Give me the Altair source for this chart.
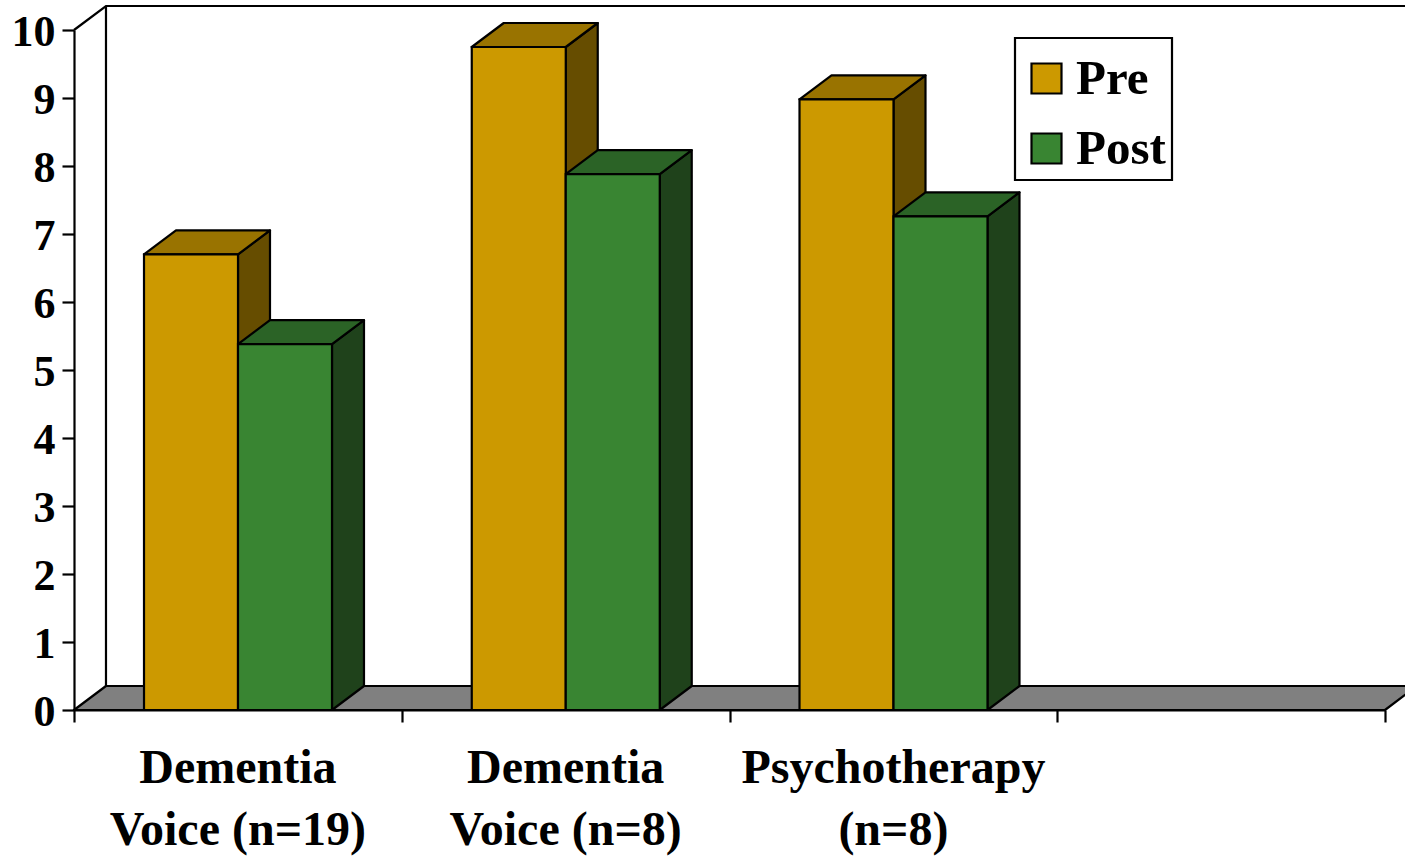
import altair as alt
import pandas as pd

# Mean scores by group, before and after treatment
groups = [["Dementia", "Voice (n=19)"], ["Dementia", "Voice (n=8)"], ["Psychotherapy", "(n=8)"]]
pre_values = [6.7, 9.75, 8.98]
post_values = [5.38, 7.88, 7.26]
y_ticks = list(range(11))
x_ticks = [0, 1, 2, 3, 4]

# Oblique projection used for the fake depth, in axis units
DEPTH_X = 0.0976
DEPTH_Y = 0.353
BAR_START = 0.2136
BAR_WIDTH = 0.2868
LAST_X = 4.0

SERIES = ["Pre", "Post"]
FRONT = ["#CC9900", "#398532"]
TOP = ["#997300", "#2B6326"]
SIDE = ["#664D00", "#1F421B"]
BLACK = "#000000"
SERIF = "Liberation Serif"
LINE = 2.2


def side_face(key, left, value):
    return [
        dict(key=key, x=left, y=0, y2=value),
        dict(key=key, x=left + DEPTH_X, y=DEPTH_Y, y2=value + DEPTH_Y),
    ]


def top_face(key, left, right, value):
    hi = value + DEPTH_Y
    return [
        dict(key=key, x=left, y=value, y2=value),
        dict(key=key, x=left + DEPTH_X, y=value, y2=hi),
        dict(key=key, x=right, y=value, y2=hi),
        dict(key=key, x=right + DEPTH_X, y=hi, y2=hi),
    ]


fronts, faces = [], {}
for s, values in enumerate([pre_values, post_values]):
    side_rows, top_rows = [], []
    for g, value in enumerate(values):
        left = g + BAR_START + s * BAR_WIDTH
        right = left + BAR_WIDTH
        fronts.append(dict(series=SERIES[s], x=left, x2=right, y=0, y2=value))
        side_rows += side_face(f"{g}", right, value)
        top_rows += top_face(f"{g}", left, right, value)
    faces[s] = (pd.DataFrame(side_rows), pd.DataFrame(top_rows))

x_scale = alt.Scale(domain=[0, LAST_X], nice=False, zero=False)
y_scale = alt.Scale(domain=[0, 10], nice=False, zero=False)
x_axis = alt.Axis(
    values=x_ticks, labels=False, title=None, grid=False, tickSize=12,
    tickColor=BLACK, tickWidth=LINE, domainColor=BLACK, domainWidth=LINE, zindex=1,
)
y_axis = alt.Axis(
    values=y_ticks, title=None, grid=False, tickSize=12, tickColor=BLACK,
    tickWidth=LINE, domainColor=BLACK, domainWidth=LINE, labelFont=SERIF,
    labelFontSize=44, labelFontWeight="bold", labelColor=BLACK, labelPadding=7,
    labelBaseline="middle", labelFlush=False, labelOverlap=False, labelOffset=2,
    format="d", zindex=1,
)
X = alt.X("x:Q", scale=x_scale, axis=x_axis)
Y = alt.Y("y:Q", scale=y_scale, axis=y_axis, stack=None)


def face_layer(frame, fill):
    return alt.Chart(frame).mark_area(
        fill=fill, stroke=BLACK, strokeWidth=LINE, strokeJoin="round", opacity=1, interpolate="linear"
    ).encode(x=X, y=Y, y2="y2:Q", detail="key:N")


# Floor of the box
floor = face_layer(
    pd.DataFrame(top_face("floor", 0, LAST_X, 0)), "#808080"
)

# Back wall outline
wall_rows = [
    dict(seg="a", o=0, x=0, y=10),
    dict(seg="a", o=1, x=DEPTH_X, y=10 + DEPTH_Y),
    dict(seg="a", o=2, x=LAST_X + DEPTH_X, y=10 + DEPTH_Y),
    dict(seg="b", o=0, x=DEPTH_X, y=10 + DEPTH_Y),
    dict(seg="b", o=1, x=DEPTH_X, y=DEPTH_Y),
]
wall = alt.Chart(pd.DataFrame(wall_rows)).mark_line(color=BLACK, strokeWidth=LINE).encode(
    x=X, y=Y, detail="seg:N", order="o:Q"
)

# Front faces carry the legend; the blank title sets the space above the first row
front = alt.Chart(pd.DataFrame(fronts)).mark_rect(stroke=BLACK, strokeWidth=LINE).encode(
    x=X,
    x2="x2:Q",
    y=Y,
    y2="y2:Q",
    color=alt.Color(
        "series:N",
        scale=alt.Scale(domain=SERIES, range=FRONT),
        legend=alt.Legend(
            orient="none", legendX=941, legendY=8, title="\u00a0", titleFontSize=10, titlePadding=0,
            symbolType="square", symbolSize=900, symbolStrokeColor=BLACK, symbolStrokeWidth=LINE,
            symbolOpacity=1, labelFont=SERIF, labelFontSize=49, labelFontWeight="bold",
            labelColor=BLACK, labelOffset=5, padding=6, symbolOffset=1, rowPadding=20,
            strokeColor=BLACK, fillColor="#FFFFFF", labelLimit=200,
        ),
    ),
)

# Two-line category captions below the axis
label_rows = []
for g, lines in enumerate(groups):
    label_rows.append(dict(x=g + 0.5, y=-1.07, text=lines[0]))
    label_rows.append(dict(x=g + 0.5, y=-1.985, text=lines[1]))
captions = alt.Chart(pd.DataFrame(label_rows)).mark_text(
    font=SERIF, fontSize=48, fontWeight="bold", color=BLACK, align="center", baseline="alphabetic"
).encode(x=X, y=Y, text="text:N")

layers = [wall, floor]
for s in range(2):
    layers.append(face_layer(faces[s][0], SIDE[s]))
    layers.append(face_layer(faces[s][1], TOP[s]))
layers += [front, captions]

chart = alt.layer(*layers).properties(
    width=1311,
    height=680,
    padding={"left": 74, "top": 30, "right": 20, "bottom": 146},
    autosize=alt.AutoSizeParams(type="none"),
    background="#FFFFFF",
).configure_view(stroke=None).configure_legend(strokeWidth=LINE)

chart.save("out.html", embed_options={"renderer": "svg", "actions": False})
